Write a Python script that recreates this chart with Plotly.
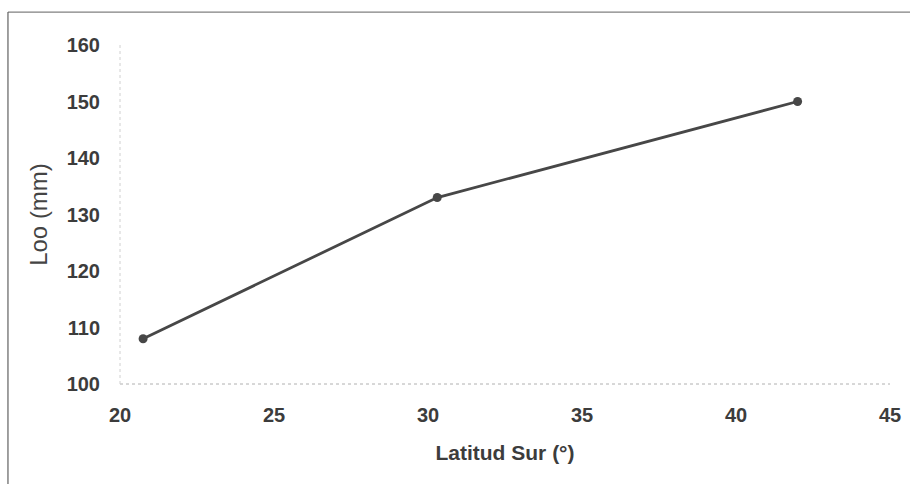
import plotly.graph_objects as go

latitud = [20.75, 30.3, 42.0]
loo = [108, 133, 150]
x_ticks = [20, 25, 30, 35, 40, 45]
y_ticks = [100, 110, 120, 130, 140, 150, 160]

fig = go.Figure()
fig.add_trace(go.Scatter(
    x=latitud, y=loo, mode="lines+markers",
    line=dict(color="#474747", width=2.8),
    marker=dict(color="#474747", size=9),
    showlegend=False,
    cliponaxis=False,
))

fam = "Liberation Sans, Arial, sans-serif"
tickfont = dict(family=fam, size=20, color="#3c3c3c", weight="bold")

fig.update_layout(
    width=910, height=484,
    margin=dict(l=120, r=20, t=45, b=100),
    paper_bgcolor="white", plot_bgcolor="white",
    xaxis=dict(range=[20, 45], tickvals=x_ticks, showgrid=False, zeroline=False,
               showline=False, tickfont=tickfont, ticks="", ticklabelstandoff=17,
               automargin=False,
               title=dict(text="Latitud Sur (°)",
                          font=dict(family=fam, size=21, color="#3c3c3c", weight="bold"),
                          standoff=20)),
    yaxis=dict(range=[100, 160], tickvals=y_ticks, showgrid=False, zeroline=False,
               showline=False, tickfont=tickfont, ticks="", ticklabelstandoff=19,
               automargin=False,
               title=dict(text="Loo (mm)",
                          font=dict(family=fam, size=24, color="#444444"),
                          standoff=12)),
    shapes=[
        dict(type="line", xref="paper", yref="paper", x0=0, x1=1, y0=0, y1=0,
             line=dict(color="#b0b0b0", width=1, dash="dot")),
        dict(type="line", xref="paper", yref="paper", x0=0, x1=0, y0=0, y1=1,
             line=dict(color="#d0d0d0", width=1, dash="dot")),
        dict(type="line", xref="paper", yref="paper", x0=-0.1455, x1=1.03, y0=1.097, y1=1.097,
             line=dict(color="#808080", width=1.2)),
        dict(type="line", xref="paper", yref="paper", x0=-0.1455, x1=-0.1455, y0=1.097, y1=-0.3,
             line=dict(color="#606060", width=1.2)),
    ],
)

fig.write_html("out.html",
               config={"displayModeBar": False},
               post_script="document.body.style.margin='0';document.body.style.overflow='hidden';")
